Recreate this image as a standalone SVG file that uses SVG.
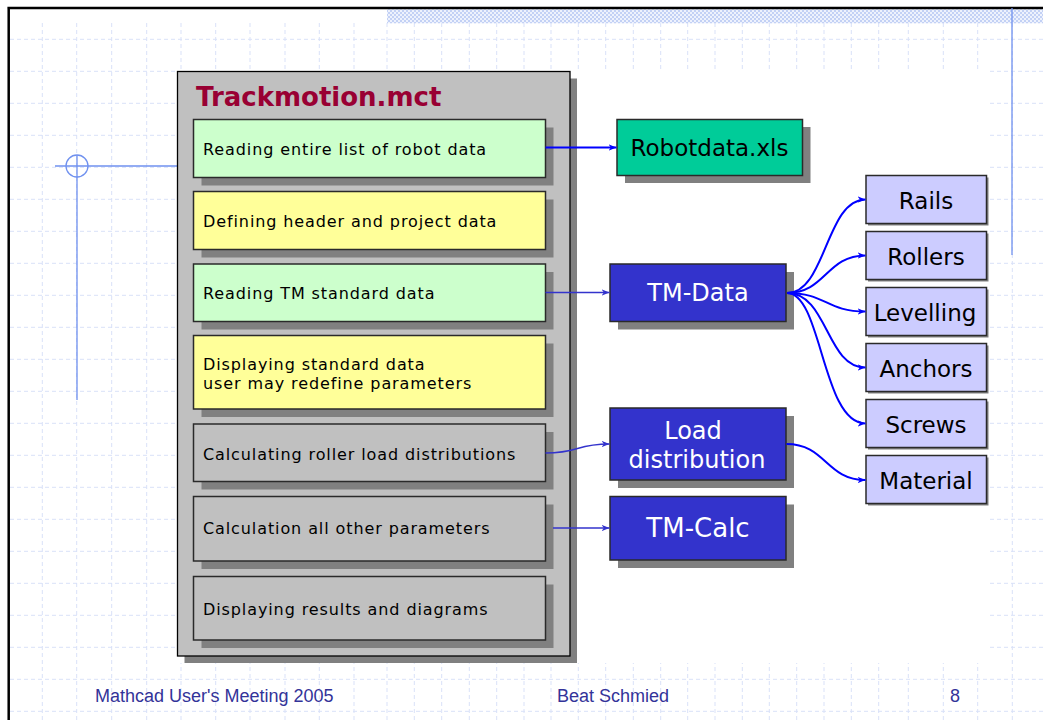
<svg xmlns="http://www.w3.org/2000/svg" width="1043" height="720" viewBox="0 0 1043 720">
<style>
.grid{stroke:#d9e1f8;stroke-width:1;stroke-dasharray:4 3;fill:none}
.guide{stroke:#7091ef;stroke-width:1.3;fill:none}
.shadow{fill:#808080}
.box{stroke:#2a2a2a;stroke-width:1.5}
.step{font-family:"DejaVu Sans",Verdana,sans-serif;font-size:16px;letter-spacing:0.9px;fill:#000}
.node{font-family:"DejaVu Sans",Verdana,sans-serif;text-anchor:middle}
.foot{font-family:"Liberation Sans",Arial,sans-serif;font-size:18px;fill:#333399}
.c1{stroke:#0000ff;stroke-width:2;fill:none;marker-end:url(#ab)}
.c2{stroke:#3333cc;stroke-width:1.5;fill:none;marker-end:url(#ac)}
</style>
<defs>
<pattern id="hatch" width="4" height="4" patternUnits="userSpaceOnUse">
<rect width="4" height="4" fill="#eef2fd"/>
<rect width="2" height="2" fill="#c3d1f5"/>
<rect x="2" y="2" width="2" height="2" fill="#c3d1f5"/>
</pattern>
<marker id="ab" viewBox="0 0 10 10" refX="10" refY="5" markerWidth="8" markerHeight="8" markerUnits="userSpaceOnUse" orient="auto">
<path d="M0,1 L10,5 L0,9 L3,5 z" fill="#0000ff"/>
</marker>
<marker id="ac" viewBox="0 0 10 10" refX="10" refY="5" markerWidth="8" markerHeight="8" markerUnits="userSpaceOnUse" orient="auto">
<path d="M0,1 L10,5 L0,9 L3,5 z" fill="#3333cc"/>
</marker>
</defs>
<rect width="1043" height="720" fill="#ffffff"/>
<g id="background">
<path class="grid" d="M10,39.3H1043M10,71.3H1043M10,103.3H1043M10,135.3H1043M10,167.3H1043M10,199.3H1043M10,231.3H1043M10,263.3H1043M10,295.3H1043M10,327.3H1043M10,359.3H1043M10,391.3H1043M10,423.3H1043M10,455.3H1043M10,487.3H1043M10,519.3H1043M10,551.3H1043M10,583.3H1043M10,615.3H1043M10,647.3H1043M10,679.3H1043M10,711.3H1043"/>
<path class="grid" d="M42.3,23V720M76.7,23V720M111.7,23V720M146.7,23V720M181,23V720M215.7,23V720M250,23V720M285,23V720M319.3,23V720M354,23V720M387,23V720M414.3,23V720M441.7,23V720M469.3,23V720M496.7,23V720M524,23V720M551,23V720M578.3,23V720M605.7,23V720M633.3,23V720M660.7,23V720M687.7,23V720M715,23V720M742.3,23V720M769.3,23V720M796.7,23V720M824,23V720M851.3,23V720M878.7,23V720M908.3,23V720M943.3,23V720M977.7,23V720M1012.3,23V720"/>
<rect x="177" y="70" width="810" height="593" fill="#ffffff"/>
<rect x="387" y="9.3" width="656" height="14" fill="url(#hatch)"/>
<path d="M7.4,7.9H1043M8.7,6.8V720" stroke="#000" stroke-width="2.5" fill="none"/>
<path class="guide" d="M55,166H177M77,155V400M1012,8V255"/>
<circle class="guide" cx="77" cy="166" r="11"/>
</g>
<g id="trackmotion">
<rect class="shadow" x="184.5" y="78.5" width="392.5" height="584.5"/>
<rect x="177.5" y="71.5" width="392.5" height="584.5" fill="#c0c0c0" stroke="#000" stroke-width="1.3"/>
<text x="196" y="106" font-family="'DejaVu Sans',Verdana,sans-serif" font-size="26" font-weight="bold" fill="#990033">Trackmotion.mct</text>
</g>
<g id="step1">
<rect class="shadow" x="201.5" y="127.5" width="352" height="58"/>
<rect class="box" x="193.5" y="119.5" width="352" height="58" fill="#ccffcc"/>
<text class="step" x="203" y="155">Reading entire list of robot data</text>
</g>
<g id="step2">
<rect class="shadow" x="201.5" y="199.5" width="352" height="58"/>
<rect class="box" x="193.5" y="191.5" width="352" height="58" fill="#ffff99"/>
<text class="step" x="203" y="227">Defining header and project data</text>
</g>
<g id="step3">
<rect class="shadow" x="201.5" y="272" width="352" height="57.5"/>
<rect class="box" x="193.5" y="264" width="352" height="57.5" fill="#ccffcc"/>
<text class="step" x="203" y="299">Reading TM standard data</text>
</g>
<g id="step4">
<rect class="shadow" x="201.5" y="343.5" width="352" height="73.5"/>
<rect class="box" x="193.5" y="335.5" width="352" height="73.5" fill="#ffff99"/>
<text class="step" x="203" y="369.5">Displaying standard data</text>
<text class="step" x="203" y="388.5">user may redefine parameters</text>
</g>
<g id="step5">
<rect class="shadow" x="201.5" y="432" width="352" height="57.5"/>
<rect class="box" x="193.5" y="424" width="352" height="57.5" fill="#c0c0c0"/>
<text class="step" x="203" y="459.5">Calculating roller load distributions</text>
</g>
<g id="step6">
<rect class="shadow" x="201.5" y="504.5" width="352" height="64.5"/>
<rect class="box" x="193.5" y="496.5" width="352" height="64.5" fill="#c0c0c0"/>
<text class="step" x="203" y="534">Calculation all other parameters</text>
</g>
<g id="step7">
<rect class="shadow" x="201.5" y="584.5" width="352" height="63.5"/>
<rect class="box" x="193.5" y="576.5" width="352" height="63.5" fill="#c0c0c0"/>
<text class="step" x="203" y="615">Displaying results and diagrams</text>
</g>
<g id="robotdata">
<rect class="shadow" x="625" y="127" width="185.5" height="56"/>
<rect class="box" x="617" y="119.5" width="185.5" height="56" fill="#00cc99"/>
<text class="node" x="709.5" y="156" font-size="23" fill="#000">Robotdata.xls</text>
</g>
<g id="tmdata">
<rect class="shadow" x="618" y="272" width="176" height="57.5"/>
<rect class="box" x="610" y="264" width="176" height="57.5" fill="#3333cc"/>
<text class="node" x="698" y="301" font-size="24" fill="#fff">TM-Data</text>
</g>
<g id="loaddist">
<rect class="shadow" x="618" y="416" width="176" height="72"/>
<rect class="box" x="610" y="408" width="176" height="72" fill="#3333cc"/>
<text class="node" x="693" y="438.5" font-size="24" fill="#fff">Load</text>
<text class="node" x="697" y="467.5" font-size="24" fill="#fff">distribution</text>
</g>
<g id="tmcalc">
<rect class="shadow" x="618" y="504.5" width="176" height="63.5"/>
<rect class="box" x="610" y="496.5" width="176" height="63.5" fill="#3333cc"/>
<text class="node" x="698" y="537" font-size="26" fill="#fff">TM-Calc</text>
</g>
<g id="rails">
<rect class="shadow" x="868" y="177.5" width="120.5" height="48"/>
<rect class="box" x="866" y="175.5" width="120.5" height="48" fill="#ccccff"/>
<text class="node" x="926" y="208.5" font-size="23" fill="#000">Rails</text>
</g>
<g id="rollers">
<rect class="shadow" x="868" y="233.5" width="120.5" height="48"/>
<rect class="box" x="866" y="231.5" width="120.5" height="48" fill="#ccccff"/>
<text class="node" x="926" y="264.5" font-size="23" fill="#000">Rollers</text>
</g>
<g id="levelling">
<rect class="shadow" x="868" y="289.5" width="120.5" height="48"/>
<rect class="box" x="866" y="287.5" width="120.5" height="48" fill="#ccccff"/>
<text class="node" x="925" y="320.5" font-size="23" fill="#000">Levelling</text>
</g>
<g id="anchors">
<rect class="shadow" x="868" y="345.5" width="120.5" height="48"/>
<rect class="box" x="866" y="343.5" width="120.5" height="48" fill="#ccccff"/>
<text class="node" x="926" y="376.5" font-size="23" fill="#000">Anchors</text>
</g>
<g id="screws">
<rect class="shadow" x="868" y="401.5" width="120.5" height="48"/>
<rect class="box" x="866" y="399.5" width="120.5" height="48" fill="#ccccff"/>
<text class="node" x="926" y="432.5" font-size="23" fill="#000">Screws</text>
</g>
<g id="material">
<rect class="shadow" x="868" y="457.5" width="120.5" height="48"/>
<rect class="box" x="866" y="455.5" width="120.5" height="48" fill="#ccccff"/>
<text class="node" x="926" y="488.5" font-size="23" fill="#000">Material</text>
</g>
<g id="connectors">
<path class="c1" d="M545.5,147.5H616.5"/>
<path class="c2" d="M545.5,292.5H609.5"/>
<path class="c2" d="M545.5,453C580,453 575,444 609.5,444"/>
<path class="c2" d="M553,528H609.5"/>
<path class="c1" d="M787,293C826,293 826,199.5 865.5,199.5"/>
<path class="c1" d="M787,293C826,293 826,255.5 865.5,255.5"/>
<path class="c1" d="M787,293C826,293 826,311.5 865.5,311.5"/>
<path class="c1" d="M787,293C828,293 826,367.5 865.5,367.5"/>
<path class="c1" d="M787,293C822,293 822,423.5 865.5,423.5"/>
<path class="c1" d="M786.5,444C826,444 826,480 865.5,480"/>
</g>
<g id="footer">
<text class="foot" x="95" y="702">Mathcad User's Meeting 2005</text>
<text class="foot" x="557" y="702">Beat Schmied</text>
<text class="foot" x="950" y="702">8</text>
</g>
</svg>
